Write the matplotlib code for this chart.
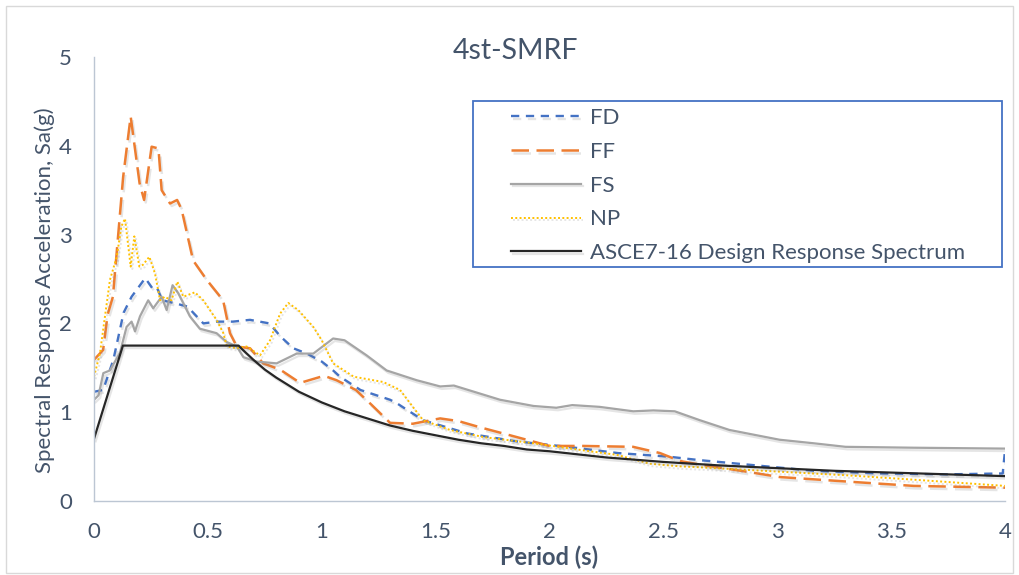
import matplotlib
matplotlib.use("Agg")
import matplotlib.pyplot as plt
import matplotlib.patheffects as pe
from matplotlib.patches import Rectangle

plt.rcParams['font.family'] = ['Lato', 'DejaVu Sans']

# FD
t_fd = [0, 0.04, 0.085, 0.13, 0.165, 0.225, 0.255, 0.275, 0.30, 0.35, 0.41, 0.48, 0.54, 0.61,
        0.685, 0.77, 0.82, 0.875, 0.935, 1.0, 1.05, 1.08, 1.17, 1.30, 1.33, 1.445, 1.64, 1.86,
        2.08, 2.30, 2.52, 2.66, 2.87, 3.16, 3.45, 3.74, 3.99, 4.0]
sa_fd = [1.23, 1.25, 1.59, 2.12, 2.30, 2.51, 2.40, 2.41, 2.26, 2.23, 2.19, 2.00, 2.02, 2.02,
         2.04, 2.00, 1.85, 1.72, 1.66, 1.57, 1.47, 1.40, 1.25, 1.14, 1.10, 0.91, 0.76, 0.67,
         0.61, 0.54, 0.50, 0.46, 0.41, 0.34, 0.31, 0.30, 0.31, 0.57]

# FF
t_ff = [0, 0.04, 0.06, 0.083, 0.128, 0.161, 0.20, 0.22, 0.253, 0.283, 0.297, 0.334, 0.365, 0.385,
        0.435, 0.495, 0.567, 0.597, 0.627, 0.685, 0.743, 0.817, 0.905, 1.01, 1.065, 1.15, 1.22,
        1.30, 1.40, 1.52, 1.60, 1.695, 1.856, 2.00, 2.148, 2.367, 2.485, 2.573, 2.66, 2.866,
        3.01, 3.30, 3.60, 4.0]
sa_ff = [1.59, 1.70, 2.10, 2.30, 3.65, 4.33, 3.58, 3.39, 3.99, 3.97, 3.50, 3.35, 3.39, 3.28,
         2.71, 2.49, 2.26, 1.89, 1.74, 1.72, 1.55, 1.48, 1.33, 1.41, 1.36, 1.25, 1.08,
         0.88, 0.87, 0.93, 0.90, 0.83, 0.72, 0.62, 0.62, 0.61, 0.54, 0.45, 0.41, 0.33,
         0.27, 0.22, 0.17, 0.15]

# FS
t_fs = [0, 0.02, 0.041, 0.07, 0.114, 0.143, 0.165, 0.18, 0.202, 0.238, 0.26, 0.297, 0.319, 0.345,
        0.37, 0.421, 0.465, 0.538, 0.583, 0.627, 0.656, 0.714, 0.802, 0.89, 0.963, 1.05, 1.10,
        1.197, 1.285, 1.417, 1.52, 1.58, 1.783, 1.93, 2.03, 2.10, 2.22, 2.368, 2.456, 2.55,
        2.66, 2.79, 3.01, 3.16, 3.30, 3.60, 4.0]
sa_fs = [1.14, 1.19, 1.44, 1.47, 1.67, 1.96, 2.02, 1.91, 2.08, 2.26, 2.17, 2.30, 2.15, 2.43,
         2.34, 2.08, 1.94, 1.89, 1.79, 1.74, 1.62, 1.57, 1.55, 1.66, 1.66, 1.83, 1.81,
         1.64, 1.47, 1.36, 1.29, 1.30, 1.14, 1.07, 1.05, 1.08, 1.06, 1.01, 1.02, 1.01,
         0.91, 0.80, 0.69, 0.65, 0.61, 0.60, 0.59]

# NP
t_np = [0, 0.026, 0.07, 0.10, 0.12, 0.136, 0.151, 0.161, 0.177, 0.199, 0.215, 0.243, 0.268, 0.29,
        0.31, 0.34, 0.366, 0.392, 0.443, 0.48, 0.538, 0.568, 0.583, 0.627, 0.67, 0.729, 0.773,
        0.817, 0.853, 0.897, 0.963, 1.0, 1.05, 1.14, 1.27, 1.344, 1.40, 1.445, 1.563, 1.71,
        1.93, 2.15, 2.295, 2.44, 2.573, 2.66, 3.01, 3.30, 3.60, 4.0]
sa_np = [1.40, 1.66, 2.49, 2.75, 3.09, 3.18, 2.86, 2.64, 2.98, 2.64, 2.66, 2.75, 2.56, 2.26,
         2.30, 2.26, 2.47, 2.30, 2.35, 2.26, 2.04, 1.89, 1.74, 1.72, 1.74, 1.64, 1.81,
         2.11, 2.23, 2.15, 1.96, 1.81, 1.55, 1.40, 1.34, 1.25, 1.06, 0.91, 0.80, 0.72,
         0.65, 0.57, 0.52, 0.42, 0.39, 0.38, 0.33, 0.29, 0.24, 0.17]

# ASCE7-16 design spectrum
t_asce = [0, 0.127, 0.635, 0.65, 0.7, 0.75, 0.8, 0.85, 0.9, 0.95, 1.0, 1.1, 1.2, 1.3, 1.4, 1.5,
          1.6, 1.7, 1.8, 1.9, 2.0, 2.25, 2.5, 2.75, 3.0, 3.25, 3.5, 3.75, 4.0]
sa_asce = [0.70, 1.75, 1.75, 1.71, 1.59, 1.48, 1.39, 1.31, 1.23, 1.17, 1.11, 1.01, 0.93, 0.85,
           0.79, 0.74, 0.69, 0.65, 0.62, 0.58, 0.56, 0.49, 0.44, 0.40, 0.37, 0.34, 0.32, 0.30, 0.28]

txt_color = '#44546A'
axis_color = '#BCC6D3'

fig = plt.figure(figsize=(10.19, 5.75), dpi=100)
fig.patches.append(Rectangle((6 / 1019, 2 / 575), 1007 / 1019, 567 / 575, transform=fig.transFigure,
                             fill=False, edgecolor='#D9D9D9', lw=1))
ax = fig.add_axes([94 / 1019, 74 / 575, 911 / 1019, 444 / 575])

shadow = [pe.SimpleLineShadow(offset=(1.2, -1.8), shadow_color='#808080', alpha=0.2), pe.Normal()]

ax.plot(t_fd, sa_fd, color='#4472C4', lw=1.7, dashes=(3.5, 2.8), label='FD', path_effects=shadow)
ax.plot(t_ff, sa_ff, color='#ED7D31', lw=1.8, dashes=(7, 3), label='FF', path_effects=shadow)
ax.plot(t_fs, sa_fs, color='#A5A5A5', lw=1.6, label='FS', path_effects=shadow)
ax.plot(t_np, sa_np, color='#FFC000', lw=1.4, dashes=(1, 1.2), label='NP', path_effects=shadow)
ax.plot(t_asce, sa_asce, color='#262626', lw=1.6, label='ASCE7-16 Design Response Spectrum',
        path_effects=shadow)

ax.set_xlim(0, 4)
ax.set_ylim(0, 5)
ax.set_xticks([0, 0.5, 1, 1.5, 2, 2.5, 3, 3.5, 4])
ax.set_xticklabels(['0', '0.5', '1', '1.5', '2', '2.5', '3', '3.5', '4'])
ax.set_yticks([0, 1, 2, 3, 4, 5])
ax.tick_params(length=0, labelsize=16, labelcolor=txt_color)
ax.tick_params(axis='x', pad=15)
ax.tick_params(axis='y', pad=16)
for s in ['top', 'right']:
    ax.spines[s].set_visible(False)
for s in ['left', 'bottom']:
    ax.spines[s].set_color(axis_color)
    ax.spines[s].set_linewidth(1)

fig.text(515 / 1019, 1 - 51 / 575, '4st-SMRF', fontsize=20.5, color=txt_color, ha='center', va='center')
fig.text(549 / 1019, 1 - 557 / 575, 'Period (s)', fontsize=17, fontweight='bold', color=txt_color,
         ha='center', va='center')
fig.text(45 / 1019, 1 - 290 / 575, 'Spectral Response Acceleration, Sa(g)', fontsize=16,
         color=txt_color, rotation=90, ha='center', va='center')

# legend box
fig.patches.append(Rectangle((473 / 1019, 1 - 267 / 575), 529 / 1019, 166 / 575,
                             transform=fig.transFigure, fill=False, edgecolor='#4472C4', lw=1.3))
leg = ax.legend(loc='upper left', bbox_to_anchor=(511 / 1019, 1 - 108 / 575),
                bbox_transform=fig.transFigure, frameon=False, fontsize=16, borderpad=0,
                labelspacing=0.62, handlelength=3.15, handletextpad=0.4, borderaxespad=0)
for t in leg.get_texts():
    t.set_color(txt_color)

plt.savefig('out.png', dpi=100)
